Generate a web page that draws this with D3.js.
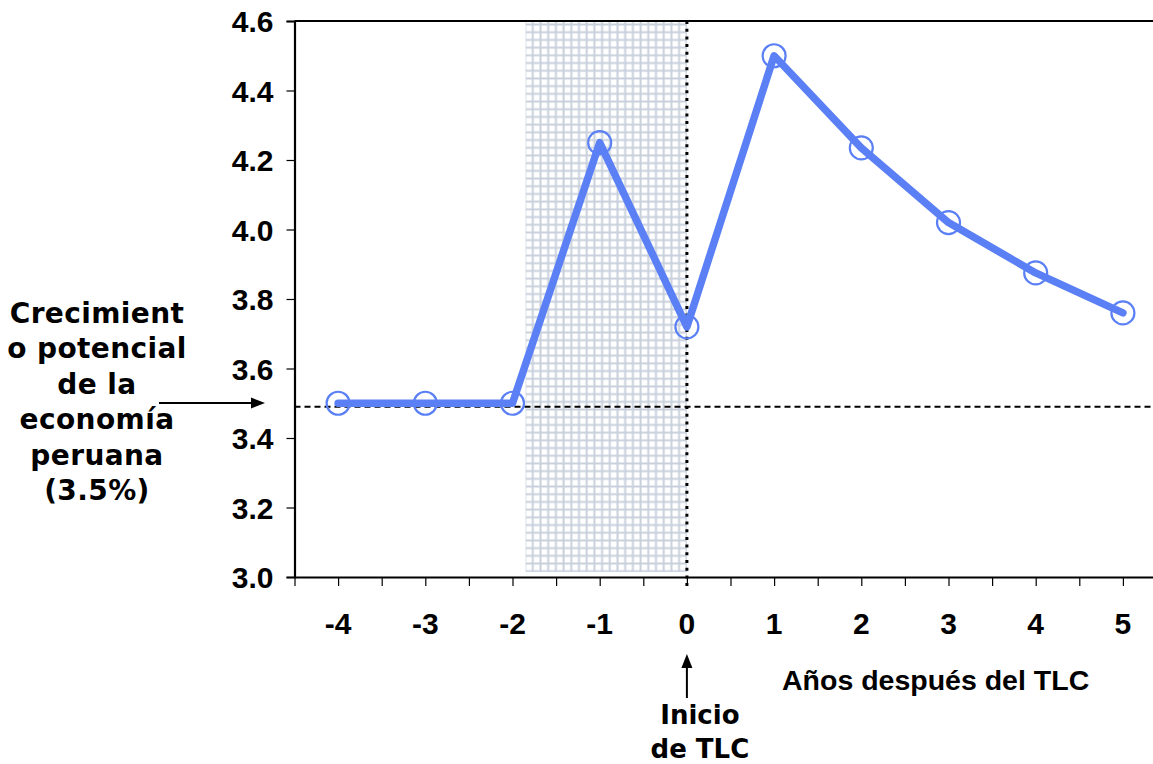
<!DOCTYPE html>
<html>
<head>
<meta charset="utf-8">
<script src="https://cdn.jsdelivr.net/npm/d3@7"></script>
<style>
  body { margin: 0; background: #fff; }
  svg { display: block; }
</style>
</head>
<body>
<div id="chart"></div>
<script>
// datos
const years = [-4, -3, -2, -1, 0, 1, 2, 3, 4, 5];
const growth = [3.5, 3.5, 3.5, 4.25, 3.72, 4.5, 4.235, 4.02, 3.875, 3.76];
const yTicks = [3.0, 3.2, 3.4, 3.6, 3.8, 4.0, 4.2, 4.4, 4.6];
const potentialLevel = 3.49;
const shadeFrom = -1.85, shadeTo = 0;
const leftLabel = ["Crecimient", "o potencial", "de la", "economía", "peruana", "(3.5%)"];
const startLabel = ["Inicio", "de TLC"];
const xTitle = "Años después del TLC";

const width = 1153, height = 764;
const blue = "#5b80f5";
const arial = "'Liberation Sans', Arial, sans-serif";
const verdana = "'DejaVu Sans', Verdana, sans-serif";

const svg = d3.select("#chart").append("svg")
  .attr("width", width)
  .attr("height", height);

const x = d3.scaleLinear().domain([-4.5, 5.5]).range([294.5, 1166.5]);
const y = d3.scaleLinear().domain([3.0, 4.6]).range([577, 21]);

// patrón de cuadrícula para la zona sombreada
const cell = 7.7;
const pat = svg.append("defs").append("pattern")
  .attr("id", "grid")
  .attr("patternUnits", "userSpaceOnUse")
  .attr("width", cell)
  .attr("height", cell);
pat.append("rect").attr("width", cell).attr("height", cell).attr("fill", "#fff");
pat.append("path")
  .attr("d", `M0,1.5H${cell}M1.5,0V${cell}`)
  .attr("stroke", "#c8d0dc")
  .attr("stroke-width", 2);

svg.append("rect")
  .attr("x", x(shadeFrom))
  .attr("y", y(4.6))
  .attr("width", x(shadeTo) - x(shadeFrom))
  .attr("height", y(3.0) - y(4.6) - 5)
  .attr("fill", "url(#grid)");

// línea de crecimiento potencial
svg.append("line")
  .attr("x1", x(-4.5)).attr("x2", width)
  .attr("y1", y(potentialLevel)).attr("y2", y(potentialLevel))
  .attr("stroke", "#000")
  .attr("stroke-width", 2)
  .attr("stroke-dasharray", "6,4");

// marco superior
svg.append("line")
  .attr("x1", x(-4.5)).attr("x2", width)
  .attr("y1", y(4.6)).attr("y2", y(4.6))
  .attr("stroke", "#000").attr("stroke-width", 2.2);

// eje Y
const yAxis = svg.append("g")
  .attr("transform", `translate(${x(-4.5)},0)`)
  .call(d3.axisLeft(y).tickValues(yTicks).tickFormat(d3.format(".1f")).tickSize(8).tickPadding(13));
yAxis.select(".domain").attr("stroke-width", 2.2);
yAxis.selectAll(".tick line").attr("stroke-width", 1.2);
yAxis.selectAll("text")
  .style("font-family", arial)
  .style("font-weight", "bold")
  .style("font-size", "30px")
  .attr("fill", "#000")
  .attr("dy", "0.36em");

// eje X
const halfTicks = d3.range(-4.5, 5.51, 0.5);
const xAxis = svg.append("g")
  .attr("transform", `translate(0,${y(3.0)})`)
  .call(d3.axisBottom(x).tickValues(halfTicks).tickFormat("").tickSize(9).tickSizeOuter(0));
xAxis.select(".domain").attr("stroke-width", 2.2);
xAxis.selectAll(".tick line").attr("stroke-width", 1.2);

svg.append("g").selectAll("text")
  .data(years)
  .join("text")
  .attr("x", d => x(d))
  .attr("y", 634)
  .attr("text-anchor", "middle")
  .style("font-family", arial)
  .style("font-weight", "bold")
  .style("font-size", "30px")
  .text(d => d);

// línea punteada de inicio del TLC
svg.append("line")
  .attr("x1", x(0)).attr("x2", x(0))
  .attr("y1", y(4.6)).attr("y2", y(3.0) + 10)
  .attr("stroke", "#000")
  .attr("stroke-width", 3)
  .attr("stroke-dasharray", "3,4.7");

// serie
const pts = years.map((d, i) => [d, growth[i]]);
svg.append("path")
  .datum(pts)
  .attr("d", d3.line().x(d => x(d[0])).y(d => y(d[1])))
  .attr("fill", "none")
  .attr("stroke", blue)
  .attr("stroke-width", 7.5)
  .attr("stroke-linejoin", "round")
  .attr("stroke-linecap", "round");

svg.append("g").selectAll("circle")
  .data(pts)
  .join("circle")
  .attr("cx", d => x(d[0]))
  .attr("cy", d => y(d[1]))
  .attr("r", 11.5)
  .attr("fill", "none")
  .attr("stroke", blue)
  .attr("stroke-width", 2.2);

// texto de la izquierda
svg.append("g").selectAll("text")
  .data(leftLabel)
  .join("text")
  .attr("x", 97)
  .attr("y", (d, i) => 323 + i * 35.4)
  .attr("text-anchor", "middle")
  .style("font-family", verdana)
  .style("font-weight", "bold")
  .style("font-size", "28px")
  .style("letter-spacing", "0.4px")
  .text(d => d);

// flecha izquierda
svg.append("line")
  .attr("x1", 159).attr("x2", 253)
  .attr("y1", 403).attr("y2", 403)
  .attr("stroke", "#000").attr("stroke-width", 2);
svg.append("path")
  .attr("d", "M265,403L251,397.5L251,408.5Z")
  .attr("fill", "#000");

// flecha de inicio
svg.append("line")
  .attr("x1", x(0)).attr("x2", x(0))
  .attr("y1", 698).attr("y2", 665)
  .attr("stroke", "#000").attr("stroke-width", 2);
svg.append("path")
  .attr("d", `M${x(0)},654L${x(0) - 5.5},668L${x(0) + 5.5},668Z`)
  .attr("fill", "#000");

svg.append("g").selectAll("text")
  .data(startLabel)
  .join("text")
  .attr("x", x(0) + 13)
  .attr("y", (d, i) => 724 + i * 34)
  .attr("text-anchor", "middle")
  .style("font-family", verdana)
  .style("font-weight", "bold")
  .style("font-size", "26px")
  .text(d => d);

svg.append("text")
  .attr("x", 782)
  .attr("y", 690)
  .style("font-family", arial)
  .style("font-weight", "bold")
  .style("font-size", "28.5px")
  .text(xTitle);
</script>
</body>
</html>
